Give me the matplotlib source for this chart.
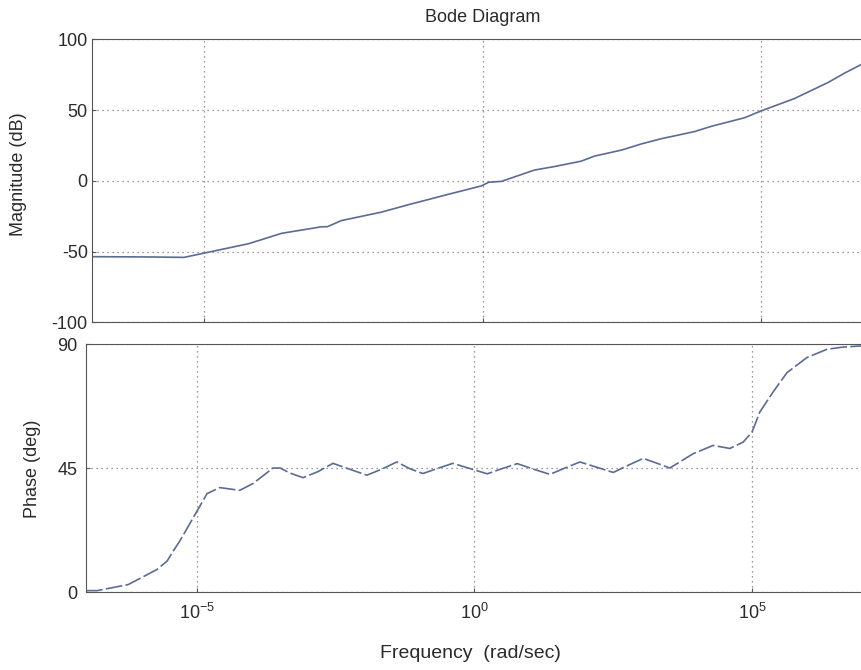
import numpy as np
import matplotlib
matplotlib.use("Agg")
import matplotlib.pyplot as plt

plt.rcParams['font.family'] = ['Liberation Sans', 'DejaVu Sans']
plt.rcParams['mathtext.default'] = 'regular'
plt.rcParams['axes.unicode_minus'] = False

# magnitude curve (log10 of w, dB)
mag_logw = [-7.0, -6.0, -5.35, -4.98, -4.19, -3.6, -2.89, -2.78, -2.53, -1.81,
            -1.33, -0.61, -0.02, 0.11, 0.34, 0.93, 1.29, 1.77, 2.01, 2.49,
            2.85, 3.21, 3.8, 4.1, 4.7, 5.0, 5.59, 6.2, 6.49, 6.79, 7.0]
mag_db = [-53.5, -53.7, -54.0, -50.9, -44.3, -37.0, -32.4, -32.3, -28.0, -22.0,
          -16.8, -9.4, -3.5, -0.9, -0.3, 7.7, 10.2, 14.0, 17.6, 21.8,
          26.2, 29.9, 34.9, 38.6, 44.7, 49.6, 58.2, 69.7, 76.2, 82.3, 87.0]

# phase curve (log10 of w, deg)
ph_logw = [-7.0, -6.8, -6.24, -6.03, -5.72, -5.54, -5.43, -5.31, -5.07, -4.82,
           -4.59, -4.23, -3.99, -3.63, -3.5, -3.33, -3.09, -2.82, -2.55, -2.24,
           -1.94, -1.67, -1.4, -1.16, -0.93, -0.66, -0.39, -0.08, 0.23, 0.5,
           0.77, 1.06, 1.36, 1.63, 1.9, 2.2, 2.5, 2.77, 3.04, 3.28, 3.52,
           3.73, 3.94, 4.3, 4.6, 4.84, 5.0, 5.14, 5.38, 5.63, 5.99, 6.35,
           6.64, 6.95, 7.0]
ph_deg = [0.5, 0.5, 2.7, 4.9, 8.2, 11.2, 14.8, 18.5, 26.9, 35.7,
          37.9, 36.9, 39.4, 45.0, 45.0, 43.2, 41.5, 43.7, 46.7, 44.5,
          42.4, 44.6, 47.2, 44.7, 43.0, 44.9, 46.7, 44.8, 42.9, 44.8,
          46.6, 44.6, 42.7, 45.0, 47.2, 45.3, 43.4, 46.0, 48.5, 46.8, 45.0,
          47.6, 50.2, 53.2, 52.1, 54.4, 58.0, 65.3, 72.6, 79.6, 85.1, 88.1,
          88.9, 89.3, 89.4]

mag_ticks = [-100, -50, 0, 50, 100]
ph_ticks = [0, 45, 90]
w_ticks = [1e-5, 1e0, 1e5]
w_labels = ['$10^{-5}$', '$10^{0}$', '$10^{5}$']

line_col = '#5a6b95'
grid_col = '#7a7a7a'
txt_col = '#2a2a2a'

fig = plt.figure(figsize=(8.61, 6.7), dpi=100)
ax1 = fig.add_axes([0.1069, 0.5187, 0.907, 0.4224])
ax2 = fig.add_axes([0.0999, 0.1164, 0.9024, 0.3701])

for ax in (ax1, ax2):
    ax.set_xscale('log')
    ax.set_xlim(1e-7, 1e7)
    ax.set_xticks(w_ticks)
    ax.minorticks_off()
    ax.grid(True, color=grid_col, linestyle=(0, (1, 3)), linewidth=0.9)
    for s in ax.spines.values():
        s.set_color('#555555')
        s.set_linewidth(0.8)
    ax.tick_params(direction='in', length=3, color='#555555',
                   labelsize=13, labelcolor=txt_col)

ax1.plot(10 ** np.array(mag_logw), mag_db, color=line_col, linewidth=1.2)
ax1.set_ylim(-100, 100)
ax1.set_yticks(mag_ticks)
ax1.set_xticklabels([])
ax1.tick_params(axis='y', pad=3)

ax2.plot(10 ** np.array(ph_logw), ph_deg, color=line_col, linewidth=1.2,
         linestyle=(0, (10, 2)))
ax2.set_ylim(0, 90)
ax2.set_yticks(ph_ticks)
ax2.set_xticklabels(w_labels)
ax2.tick_params(axis='y', pad=6)
ax2.tick_params(axis='x', pad=8)

fig.text(0.561, 0.974, 'Bode Diagram', ha='center', va='center',
         fontsize=13, color=txt_col)
fig.text(0.021, 0.74, 'Magnitude (dB)', rotation=90, ha='center', va='center',
         fontsize=13, color=txt_col)
fig.text(0.038, 0.30, 'Phase (deg)', rotation=90, ha='center', va='center',
         fontsize=13, color=txt_col)
fig.text(0.546, 0.025, 'Frequency  (rad/sec)', ha='center', va='center',
         fontsize=14, color=txt_col)

fig.savefig('out.png', dpi=100)
